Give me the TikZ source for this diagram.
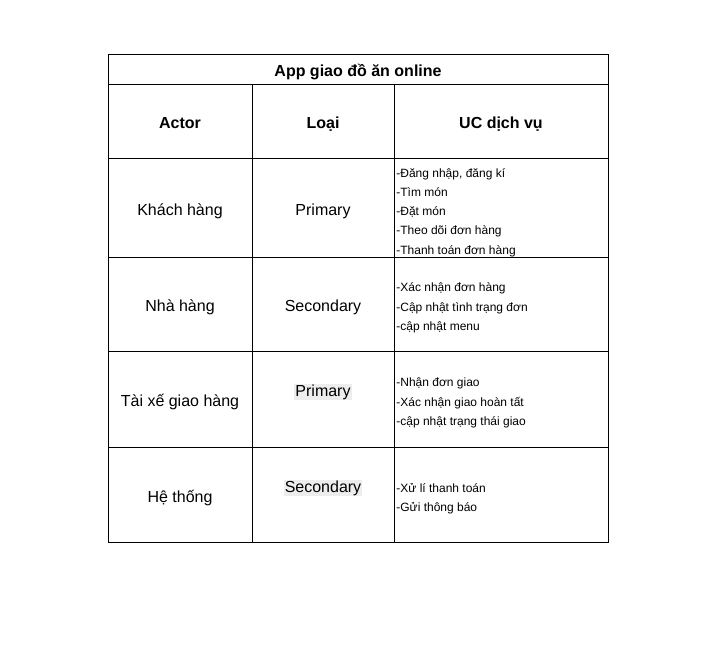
\documentclass[tikz,border=0pt]{standalone}
\usepackage{fontspec}
\setmainfont{Liberation Sans}
\tikzset{
  cell/.style={font=\fontsize{16}{19}\selectfont},
  head/.style={font=\fontsize{16}{19}\selectfont\bfseries},
  uclist/.style={anchor=west,align=left,inner sep=0pt,font=\fontsize{12}{19.3}\selectfont},
  marked/.style={fill=black!7,inner sep=1pt}
}
\begin{document}
\begin{tikzpicture}[x=1pt,y=-1pt,line width=0.8pt]
        \useasboundingbox (0,0) rectangle (723,648);
        %% Table frame
        \draw (108,54) rectangle (608,542);
        \draw (108,84) -- (608,84);
        \draw (108,158) -- (608,158);
        \draw (108,257) -- (608,257);
        \draw (108,351) -- (608,351);
        \draw (108,447) -- (608,447);
        \draw (252,84) -- (252,542);
        \draw (394,84) -- (394,542);
        %% Title and header
        \node[head] (title) at (358,72.5) {App giao đồ ăn online};
        \node[head] (hactor) at (180,123.5) {Actor};
        \node[head] (htype) at (323,124) {Loại};
        \node[head] (huc) at (501,124) {UC dịch vụ};
        %% Actors
        \node[cell] (khach) at (180,211) {Khách hàng};
        \node[cell] (nhahang) at (180,307) {Nhà hàng};
        \node[cell] (taixe) at (180,402) {Tài xế giao hàng};
        \node[cell] (hethong) at (180,498) {Hệ thống};
        %% Types
        \node[cell] (tkhach) at (323,211) {Primary};
        \node[cell] (tnhahang) at (323,307) {Secondary};
        \node[cell,marked] (ttaixe) at (323,392) {Primary};
        \node[cell,marked] (thethong) at (323,488) {Secondary};
        %% Use cases
        \node[uclist] (ukhach) at (396,212.5) {-Đăng nhập, đăng kí\\-Tìm món\\-Đặt món\\-Theo dõi đơn hàng\\-Thanh toán đơn hàng};
        \node[uclist] (unhahang) at (396,308) {-Xác nhận đơn hàng\\-Cập nhật tình trạng đơn\\-cập nhật menu};
        \node[uclist] (utaixe) at (396,403) {-Nhận đơn giao\\-Xác nhận giao hoàn tất\\-cập nhật trạng thái giao};
        \node[uclist] (uhethong) at (396,499) {-Xử lí thanh toán\\-Gửi thông báo};
    \end{tikzpicture}
\end{document}
